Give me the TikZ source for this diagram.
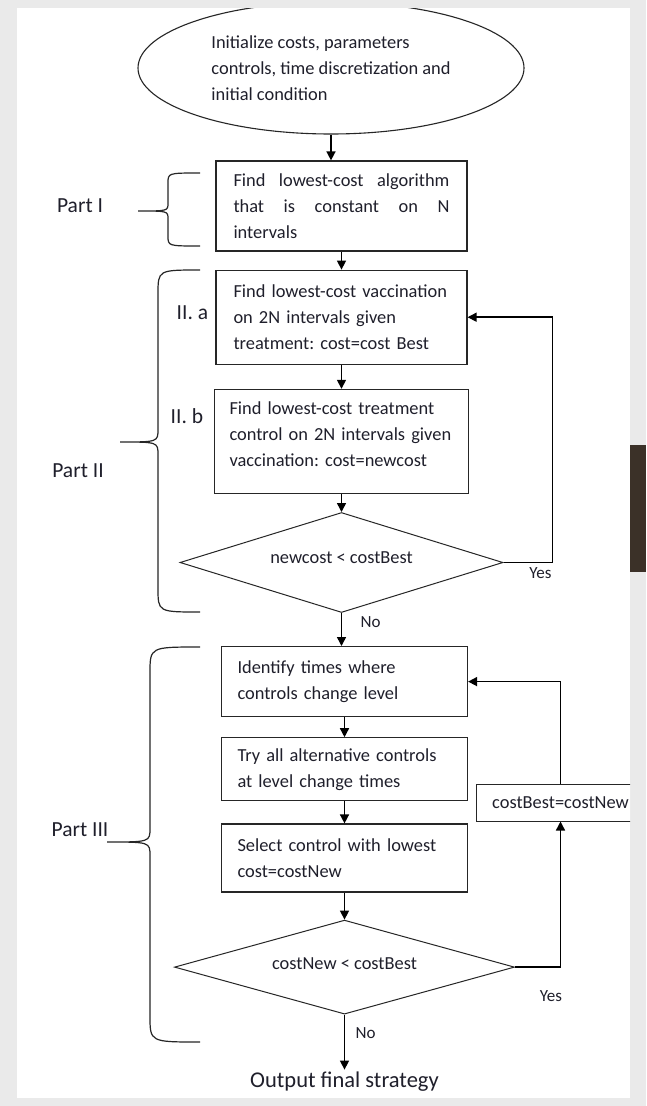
\documentclass[tikz,border=0pt]{standalone}
\usepackage{fontspec}
\setmainfont{Carlito}
\frenchspacing
\usetikzlibrary{arrows.meta, positioning, shapes.geometric}
\definecolor{ink}{HTML}{1F1F2B}
\definecolor{frameline}{HTML}{262626}
\definecolor{pagegray}{HTML}{EAEAEA}
\definecolor{woodstrip}{HTML}{3B3128}
\newcommand\stepfont{\fontsize{18.4pt}{26pt}\selectfont}
\newcommand\lblfont{\fontsize{21.5pt}{24pt}\selectfont}
\newcommand\ansfont{\fontsize{17pt}{20pt}\selectfont}
\newcommand\fullline[1]{\leavevmode\hbox to 216pt{#1}}
% curly brace: end x, spine x, tip x, top y, tip y, bottom y, end radius, tip radius
\newcommand\partbrace[8]{%
  \draw[bracket] (#1,#4) .. controls (#2,#4) .. (#2,#4+#7) -- (#2,#5-#8)
    .. controls (#2,#5) .. (#3,#5) .. controls (#2,#5) .. (#2,#5+#8)
    -- (#2,#6-#7) .. controls (#2,#6) .. (#1,#6);}
\tikzset{
  stepbox/.style = {rectangle, draw=frameline, line width=1.2pt, fill=white,
                    text=ink, font=\stepfont, align=left, text width=216pt,
                    inner xsep=17.5pt, inner ysep=0pt},
  startbox/.style= {ellipse, draw=frameline, line width=1.1pt, fill=white,
                    text=ink, font=\stepfont, align=left, inner sep=0pt,
                    minimum width=386pt, minimum height=132pt},
  testbox/.style = {diamond, aspect=3.3, draw=frameline, line width=1pt, fill=white,
                    text=ink, font=\stepfont, inner sep=0pt},
  updbox/.style  = {rectangle, draw=frameline, line width=1pt, fill=white,
                    text=ink, font=\stepfont, minimum width=169pt,
                    minimum height=37pt, inner sep=0pt},
}
\begin{document}
\begin{tikzpicture}[
					x=1pt, y=-1pt,
					flow/.style={-{Triangle[length=9pt, width=9pt]}, line width=1.5pt, draw=black},
					bracket/.style={line width=1.2pt, draw=frameline},
					lbl/.style={font=\lblfont, text=ink, inner sep=0pt},
					ans/.style={font=\ansfont, text=ink, inner sep=0pt}
					]
					\useasboundingbox (0,0) rectangle (646,1106);
					\fill[pagegray] (0,0) rectangle (646,1106);
					\fill[white] (17,8) rectangle (630,1098);

					\begin{scope}
					\clip (17,8) rectangle (630,1098);

					\node[startbox] (init) at (331,68)
					{Initialize costs, parameters\\controls, time discretization and\\initial condition};

					% Part I
					\node[stepbox, minimum height=90pt] (findN) at (341.5,206)
					{\fullline{Find\hfil lowest-cost\hfil algorithm}\\
						\fullline{that\hfil is\hfil constant\hfil on\hfil N}\\intervals};

					% Part II
					\node[stepbox, minimum height=94pt, below=18pt of findN] (vacc)
					{Find lowest-cost vaccination\\on 2N intervals given\\treatment: cost=cost Best};
					\node[stepbox, text width=224pt, inner xsep=15pt, minimum height=104pt,
					below=24pt of vacc] (treat)
					{\mbox{Find lowest-cost treatment}\\\mbox{control on 2N intervals given}\\
						\mbox{vaccination: cost=newcost}\par\vspace*{14pt}};
					\node[testbox, minimum width=323pt, minimum height=100pt,
					below=18pt of treat] (test1) {\raisebox{9pt}{newcost < costBest}};

					% Part III
					\node[stepbox, text width=214pt, inner xsep=16pt, minimum height=70pt,
					below=33pt of test1, xshift=3pt] (times)
					{Identify times where\\controls change level};
					\node[stepbox, text width=214pt, inner xsep=16pt, minimum height=63pt,
					below=20pt of times] (tryall)
					{Try all alternative controls\\at level change times};
					\node[stepbox, text width=214pt, inner xsep=16pt, minimum height=68pt,
					below=22pt of tryall] (select)
					{Select control with lowest\\cost=costNew};
					\node[testbox, minimum width=340pt, minimum height=94pt,
					below=27pt of select] (test2) {\raisebox{8pt}{costNew < costBest}};
					\node[updbox] (upd) at (560.5,802.5) {costBest=costNew};
					\node[font=\fontsize{22.5pt}{26pt}\selectfont, text=ink, inner sep=2pt,
					below=55pt of test2] (final) {Output final strategy};

					% main flow
					\draw[flow] (init.south) -- (init.south |- findN.north);
					\draw[flow] (findN) -- (vacc);
					\draw[flow] (vacc) -- (treat);
					\draw[flow] (treat) -- (test1);
					\draw[flow] (test1.south) -- (test1.south |- times.north);
					\draw[flow] (times) -- (tryall);
					\draw[flow] (tryall) -- (select);
					\draw[flow] (select) -- (test2);
					\draw[flow] (test2) -- (final);

					% loops back
					\draw[flow] (test1.east) -- ++(49,0) |- (vacc.east);
					\draw[flow] (test2.east) -| (upd.south);
					\draw[flow] (upd.north) |- (times.east);

					\node[ans] at ([xshift=37pt, yshift=-11pt]test1.east) {Yes};
					\node[ans] at ([xshift=29pt, yshift=-9pt]test1.south) {No};
					\node[ans] at ([xshift=36pt, yshift=-29pt]test2.east) {Yes};
					\node[ans] at ([xshift=21pt, yshift=-18pt]test2.south) {No};

					% braces and part labels
					\partbrace{200}{168}{138}{173}{211}{246}{10}{8}
					\partbrace{200}{158}{120}{270}{442}{612}{24}{13}
					\partbrace{200}{150}{107}{647}{842}{1042}{26}{14}
					\node[lbl] at (80,206) {Part I};
					\node[lbl] at (78,471) {Part II};
					\node[lbl] at (80,830) {Part III};
					\node[lbl] at ([xshift=-23pt, yshift=5pt]vacc.west) {II. a};
					\node[lbl] at ([xshift=-27pt, yshift=25pt]treat.west) {II. b};
					\end{scope}

					\fill[woodstrip] (630,445) rectangle (646,572);
				\end{tikzpicture}
\end{document}
